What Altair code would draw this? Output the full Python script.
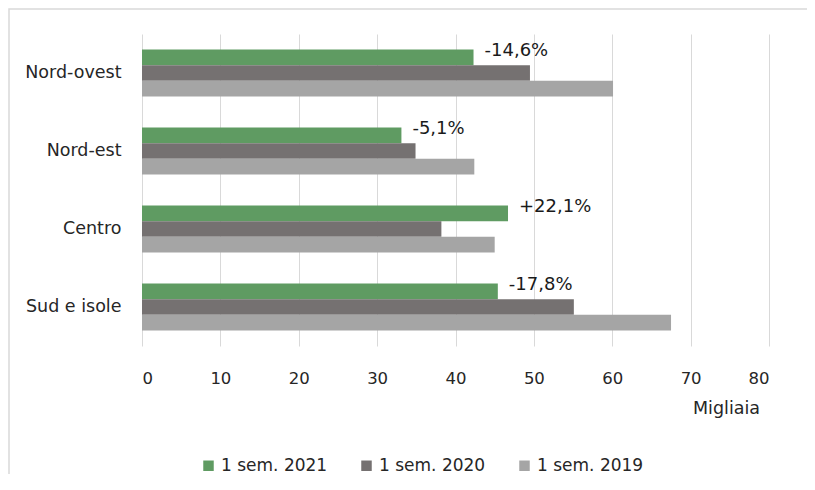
import altair as alt
import pandas as pd

regions = ["Nord-ovest", "Nord-est", "Centro", "Sud e isole"]
series = ["1 sem. 2021", "1 sem. 2020", "1 sem. 2019"]
v2021 = [42.3, 33.1, 46.7, 45.4]
v2020 = [49.5, 34.9, 38.2, 55.1]
v2019 = [60.1, 42.4, 45.0, 67.5]
labels = ["-14,6%", "-5,1%", "+22,1%", "-17,8%"]
colors = ["#5f9b62", "#757171", "#a5a5a5"]
x_ticks = [0, 10, 20, 30, 40, 50, 60, 70, 80]

rows = []
for s, vals in zip(series, [v2021, v2020, v2019]):
    for r, v in zip(regions, vals):
        rows.append({"region": r, "series": s, "value": v})
df = pd.DataFrame(rows)
lab_df = pd.DataFrame({"region": regions, "series": series[0], "value": v2021, "label": labels})

FONT = "DejaVu Sans"
TXT = "#262626"

y_enc = alt.Y("region:N", sort=regions,
              scale=alt.Scale(paddingInner=0.4, paddingOuter=0.2),
              axis=alt.Axis(title=None, domain=False, ticks=False, labelPadding=21,
                            labelFontSize=17.5, labelColor=TXT, labelFont=FONT))
yoff = alt.YOffset("series:N", sort=series,
                   scale=alt.Scale(domain=series, paddingInner=0, paddingOuter=0))

bars = alt.Chart(df).mark_bar().encode(
    x=alt.X("value:Q", scale=alt.Scale(domain=[0, 80], nice=False),
            axis=alt.Axis(values=x_ticks, title="Migliaia", grid=True, gridColor="#d9d9d9",
                          domain=False, ticks=False, labelPadding=24, labelFontSize=16.5,
                          labelColor=TXT, labelFont=FONT, titleFont=FONT,
                          titleFontSize=17.5, titleFontWeight="normal", titleColor=TXT,
                          titleX=584, titleY=62, titleAlign="center", titleBaseline="middle")),
    y=y_enc,
    yOffset=yoff,
    color=alt.Color("series:N", sort=series,
                    scale=alt.Scale(domain=series, range=colors),
                    legend=alt.Legend(title=None, orient="none", direction="horizontal",
                                      legendX=58, legendY=423, symbolType="square",
                                      symbolSize=110, symbolStrokeWidth=0, columnPadding=30,
                                      labelFontSize=17, labelFont=FONT, labelColor=TXT,
                                      labelOffset=4)),
)

text = alt.Chart(lab_df).mark_text(align="left", baseline="middle", dx=11, dy=-6,
                                   fontSize=18, font=FONT, color="#1a1a1a").encode(
    x=alt.X("value:Q"),
    y=alt.Y("region:N", sort=regions),
    yOffset=yoff,
    text="label:N",
)

border = alt.Chart(pd.DataFrame({"a": [0]})).mark_rect(
    fillOpacity=0, stroke="#d9d9d9", strokeWidth=1.5, clip=False
).encode(x=alt.value(-133), x2=alt.value(800), y=alt.value(-25), y2=alt.value(600))

chart = alt.layer(border, bars, text).properties(
    width=627, height=312,
    autosize=alt.AutoSizeParams(type="none"),
    padding={"left": 134, "top": 26, "right": 38, "bottom": 128},
).configure_view(stroke=None)

chart.save("out.html", embed_options={"renderer": "svg", "actions": False})
